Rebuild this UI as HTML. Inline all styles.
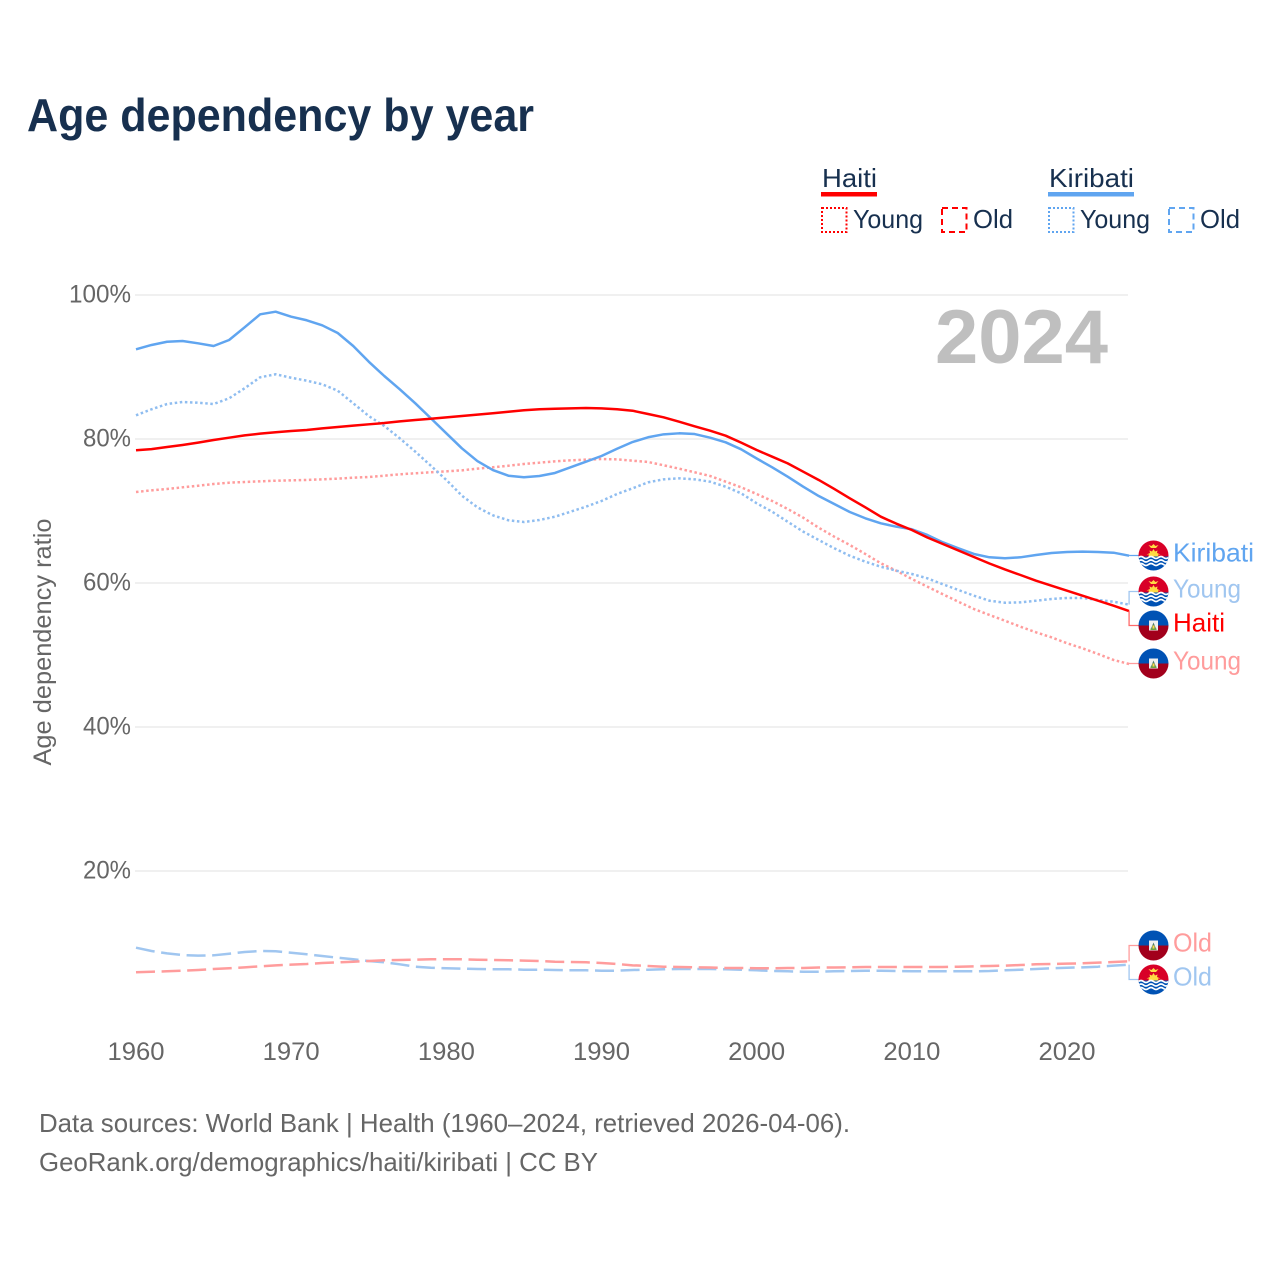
<!DOCTYPE html>
<html lang="en">
<head>
<meta charset="utf-8">
<title>Age dependency by year</title>
<style>
html,body{margin:0;padding:0;background:#fff;width:1280px;height:1280px;overflow:hidden}
svg{display:block}
text{font-family:"Liberation Sans",sans-serif}
</style>
</head>
<body>
<svg id="chart" xmlns="http://www.w3.org/2000/svg" width="1280" height="1280" viewBox="0 0 1280 1280">
<defs>
<clipPath id="flag-clip"><circle cx="0" cy="0" r="15"/></clipPath>
<g id="flag-kiribati" clip-path="url(#flag-clip)">
<rect x="-15" y="-15" width="30" height="16" fill="#d80027"/>
<rect x="-15" y="1" width="30" height="14" fill="#0052b4"/>
<path d="M-5 1A5 5 0 0 1 5 1Z" fill="#ffda44"/>
<path d="M-7 -1L-3.5 -2.5L-4 -5L-1.5 -4L0 -6.5L1.5 -4L4 -5L3.500 -2.500L7 -1Z" fill="#ffda44"/>
<path d="M-5 -10.500L-2 -9.500L0 -11.500L2 -9.500L5 -10.500L2.500 -7.500L-2.500 -7.500Z" fill="#ffda44"/>
<path d="M-15 2q2.500 -2 5 0t5 0t5 0t5 0t5 0t5 0" fill="none" stroke="#fff" stroke-width="1.700"/>
<path d="M-15 5.500q2.500 -2 5 0t5 0t5 0t5 0t5 0t5 0" fill="none" stroke="#fff" stroke-width="1.700"/>
<path d="M-15 9q2.500 -2 5 0t5 0t5 0t5 0t5 0t5 0" fill="none" stroke="#fff" stroke-width="1.700"/>
</g>
<g id="flag-haiti" clip-path="url(#flag-clip)">
<rect x="-15" y="-15" width="30" height="15" fill="#0052b4"/>
<rect x="-15" y="0" width="30" height="15" fill="#a2001c"/>
<rect x="-4.500" y="-5" width="9" height="10" fill="#f0f0f0"/>
<path d="M-2.500 3L0 -3L2.500 3Z" fill="#4f7f6a"/>
<rect x="-3" y="3" width="6" height="1.500" fill="#6da544"/>
<rect x="-1" y="0" width="2" height="3" fill="#ffda44"/>
</g>
</defs>
<rect width="1280" height="1280" fill="#fff"/>
<text x="27" y="131" font-size="46" font-weight="700" fill="#17304f" textLength="507" lengthAdjust="spacingAndGlyphs">Age dependency by year</text>

<g font-size="26" fill="#17304f">
<g>
<text x="822" y="187" textLength="55" lengthAdjust="spacingAndGlyphs">Haiti</text>
<rect x="821" y="192" width="56" height="4.500" fill="#ff0000"/>
<rect x="822" y="208" width="24.500" height="24" fill="none" stroke="#ff0000" stroke-width="2" stroke-dasharray="2 2"/>
<text x="853" y="228" textLength="70" lengthAdjust="spacingAndGlyphs">Young</text>
<rect x="942" y="208" width="24.500" height="24" fill="none" stroke="#ff0000" stroke-width="2" stroke-dasharray="6 4"/>
<text x="973" y="228" textLength="40" lengthAdjust="spacingAndGlyphs">Old</text>
</g>
<g>
<text x="1049" y="187" textLength="85" lengthAdjust="spacingAndGlyphs">Kiribati</text>
<rect x="1048" y="192" width="86" height="4.500" fill="#60a5f0"/>
<rect x="1049" y="208" width="24.500" height="24" fill="none" stroke="#60a5f0" stroke-width="2" stroke-dasharray="2 2"/>
<text x="1080" y="228" textLength="70" lengthAdjust="spacingAndGlyphs">Young</text>
<rect x="1169" y="208" width="24.500" height="24" fill="none" stroke="#60a5f0" stroke-width="2" stroke-dasharray="6 4"/>
<text x="1200" y="228" textLength="40" lengthAdjust="spacingAndGlyphs">Old</text>
</g>
</g>

<g id="grid"></g>
<g id="y-axis"></g>
<g id="x-axis"></g>
<text transform="translate(51,642) rotate(-90)" text-anchor="middle" font-size="25" fill="#666" textLength="247" lengthAdjust="spacingAndGlyphs">Age dependency ratio</text>
<text x="935" y="363" font-size="76" font-weight="700" fill="#bfbfbf" textLength="173" lengthAdjust="spacingAndGlyphs">2024</text>
<g id="series"></g>
<g id="leaders"></g>
<g id="end-labels"></g>

<text x="39" y="1132" font-size="26" fill="#666" textLength="811" lengthAdjust="spacingAndGlyphs">Data sources: World Bank | Health (1960–2024, retrieved 2026-04-06).</text>
<text x="39" y="1171" font-size="26" fill="#666" textLength="559" lengthAdjust="spacingAndGlyphs">GeoRank.org/demographics/haiti/kiribati | CC BY</text>
</svg>
<script>
const startYear = 1960;
const xTickYears = [1960, 1970, 1980, 1990, 2000, 2010, 2020];
const yTickValues = [20, 40, 60, 80, 100];
const kiribatiTotal = [92.46,93.06,93.51,93.61,93.29,92.92,93.75,95.51,97.32,97.68,96.99,96.49,95.79,94.72,92.92,90.74,88.75,86.90,84.96,82.88,80.79,78.71,76.94,75.69,74.90,74.68,74.86,75.28,76.07,76.85,77.64,78.65,79.58,80.24,80.65,80.79,80.69,80.18,79.54,78.57,77.29,76.07,74.76,73.38,72.08,70.97,69.86,68.99,68.29,67.82,67.46,66.67,65.65,64.82,64.03,63.57,63.43,63.57,63.89,64.17,64.31,64.35,64.31,64.21,63.79];
const haitiTotal = [78.43,78.60,78.89,79.17,79.49,79.86,80.18,80.51,80.74,80.93,81.11,81.25,81.48,81.67,81.85,82.04,82.22,82.45,82.64,82.82,83.01,83.19,83.38,83.57,83.79,83.99,84.13,84.21,84.26,84.31,84.26,84.13,83.93,83.47,83.01,82.40,81.76,81.15,80.46,79.49,78.47,77.54,76.62,75.46,74.31,73.06,71.76,70.51,69.21,68.24,67.36,66.32,65.42,64.51,63.61,62.71,61.88,61.11,60.32,59.63,58.93,58.24,57.54,56.85,56.11];
const kiribatiYoung = [83.29,84.13,84.86,85.14,85.04,84.86,85.65,87.04,88.57,88.99,88.51,88.10,87.60,86.71,84.96,83.19,81.81,80.09,78.24,76.29,74.31,72.13,70.51,69.40,68.71,68.47,68.75,69.21,69.90,70.60,71.39,72.36,73.15,73.98,74.40,74.54,74.40,74.07,73.38,72.45,71.07,69.90,68.50,67.13,65.97,64.82,63.79,62.96,62.26,61.71,61.25,60.65,59.82,59.03,58.24,57.54,57.26,57.31,57.54,57.78,57.92,57.92,57.64,57.40,56.99];
const haitiYoung = [72.64,72.87,73.06,73.29,73.51,73.75,73.93,74.03,74.12,74.21,74.26,74.31,74.40,74.49,74.63,74.72,74.90,75.10,75.24,75.38,75.51,75.65,75.88,76.07,76.29,76.53,76.71,76.90,77.04,77.13,77.22,77.17,76.99,76.81,76.35,75.88,75.38,74.86,74.07,73.29,72.36,71.39,70.28,69.07,67.68,66.43,65.28,64.03,62.74,61.71,60.56,59.49,58.43,57.40,56.39,55.56,54.76,53.93,53.15,52.45,51.63,50.93,50.14,49.31,48.75];
const kiribatiOld = [9.35,8.89,8.56,8.33,8.24,8.29,8.51,8.75,8.89,8.85,8.65,8.43,8.19,7.96,7.74,7.50,7.32,7.04,6.71,6.57,6.49,6.43,6.39,6.35,6.35,6.29,6.29,6.25,6.21,6.21,6.15,6.15,6.25,6.29,6.35,6.39,6.39,6.39,6.35,6.29,6.21,6.11,6.07,6.01,6.01,6.07,6.11,6.15,6.15,6.11,6.07,6.07,6.07,6.07,6.07,6.11,6.21,6.29,6.39,6.49,6.57,6.62,6.71,6.85,6.99];
const haitiOld = [5.93,6.01,6.07,6.15,6.25,6.39,6.49,6.62,6.76,6.90,6.99,7.08,7.22,7.32,7.40,7.50,7.60,7.64,7.68,7.74,7.74,7.74,7.68,7.64,7.60,7.56,7.50,7.40,7.37,7.32,7.22,7.08,6.90,6.81,6.71,6.67,6.62,6.60,6.53,6.53,6.49,6.49,6.53,6.53,6.60,6.60,6.62,6.67,6.67,6.67,6.67,6.67,6.67,6.71,6.76,6.81,6.85,6.94,7.04,7.08,7.13,7.18,7.27,7.37,7.45];

const NS = 'http://www.w3.org/2000/svg';
function xScale(year){ return 136 + (year - 1960) * 15.517; }
function yScale(value){ return 1015 - value * 7.2; }
function node(tag, parent){
  const el = document.createElementNS(NS, tag);
  parent.appendChild(el);
  return el;
}
function ink(el, props){
  for (const k in props) el.setAttribute(k, props[k]);
}

const grid = document.getElementById('grid');
const yAxis = document.getElementById('y-axis');
const xAxis = document.getElementById('x-axis');
yTickValues.forEach(function(v){
  const line = node('line', grid);
  
  
  ink(line, {x1: 135, x2: 1128, y1: yScale(v), y2: yScale(v), stroke: '#ececec', 'stroke-width': 1.5});
  const t = node('text', yAxis);
  
  
  ink(t, {x: 131, y: yScale(v) + 7.5, 'text-anchor': 'end', 'font-size': 25, fill: '#666', textLength: v === 100 ? 62 : 48, lengthAdjust: 'spacingAndGlyphs'});
  t.textContent = v + '%';
});
xTickYears.forEach(function(y){
  const t = node('text', xAxis);
  
  
  ink(t, {x: xScale(y), y: 1060, 'text-anchor': 'middle', 'font-size': 25, fill: '#666', textLength: 57, lengthAdjust: 'spacingAndGlyphs'});
  t.textContent = y;
});

const seriesGroup = document.getElementById('series');
function drawSeries(values, name, color, width, dash, cap){
  const p = node('path', seriesGroup);
  
  
  const d = values.map(function(v, i){
    return (i ? 'L' : 'M') + xScale(startYear + i).toFixed(2) + ' ' + yScale(v).toFixed(2);
  }).join('');
  ink(p, {d: d, fill: 'none', stroke: color, 'stroke-width': width, 'stroke-linejoin': 'round', 'stroke-linecap': cap});
  if (dash) p.setAttribute('stroke-dasharray', dash);
}
drawSeries(kiribatiOld, 'line-kiribati-old', '#a0c6f0', 2.5, '19 6.6', 'butt');
drawSeries(haitiOld, 'line-haiti-old', '#ff9c9c', 2.5, '19 6.6', 'butt');
drawSeries(haitiYoung, 'line-haiti-young', '#ff9c9c', 2.5, '2.5 2.6', 'butt');
drawSeries(kiribatiYoung, 'line-kiribati-young', '#8fbdf0', 2.5, '2.5 2.6', 'butt');
drawSeries(kiribatiTotal, 'line-kiribati-total', '#60a5f0', 2.5, null, 'butt');
drawSeries(haitiTotal, 'line-haiti-total', '#ff0000', 2.5, null, 'butt');

const lastYear = startYear + kiribatiTotal.length - 1;
const leaders = document.getElementById('leaders');
const labelsGroup = document.getElementById('end-labels');
function drawEnd(values, text, flag, cy, color, leaderColor, labelWidth){
  const endY = yScale(values[values.length - 1]);
  const xEnd = xScale(lastYear);
  const l = node('path', leaders);
  
  
  ink(l, {d: 'M' + xEnd + ' ' + endY.toFixed(2) + 'V' + cy + 'H1140', fill: 'none', stroke: leaderColor, 'stroke-width': 1.3});
  const u = node('use', labelsGroup);
  
  
  u.setAttribute('href', '#' + flag);
  u.setAttribute('transform', 'translate(1153.5,' + cy + ')');
  const t = node('text', labelsGroup);
  
  
  ink(t, {x: 1173, y: cy + 6, 'font-size': 26, fill: color, textLength: labelWidth, lengthAdjust: 'spacingAndGlyphs'});
  t.textContent = text;
}
drawEnd(kiribatiTotal, 'Kiribati', 'flag-kiribati', 555.5, '#60a5f0', '#60a5f0', 81);
drawEnd(kiribatiYoung, 'Young', 'flag-kiribati', 591.5, '#a0c6f0', '#a0c6f0', 68);
drawEnd(haitiTotal, 'Haiti', 'flag-haiti', 625.5, '#ff0000', '#ff6a6a', 52);
drawEnd(haitiYoung, 'Young', 'flag-haiti', 663.5, '#ff9c9c', '#ff9c9c', 68);
drawEnd(haitiOld, 'Old', 'flag-haiti', 945.5, '#ff9c9c', '#ff9c9c', 39);
drawEnd(kiribatiOld, 'Old', 'flag-kiribati', 979.5, '#a0c6f0', '#a0c6f0', 39);
</script>
</body>
</html>
